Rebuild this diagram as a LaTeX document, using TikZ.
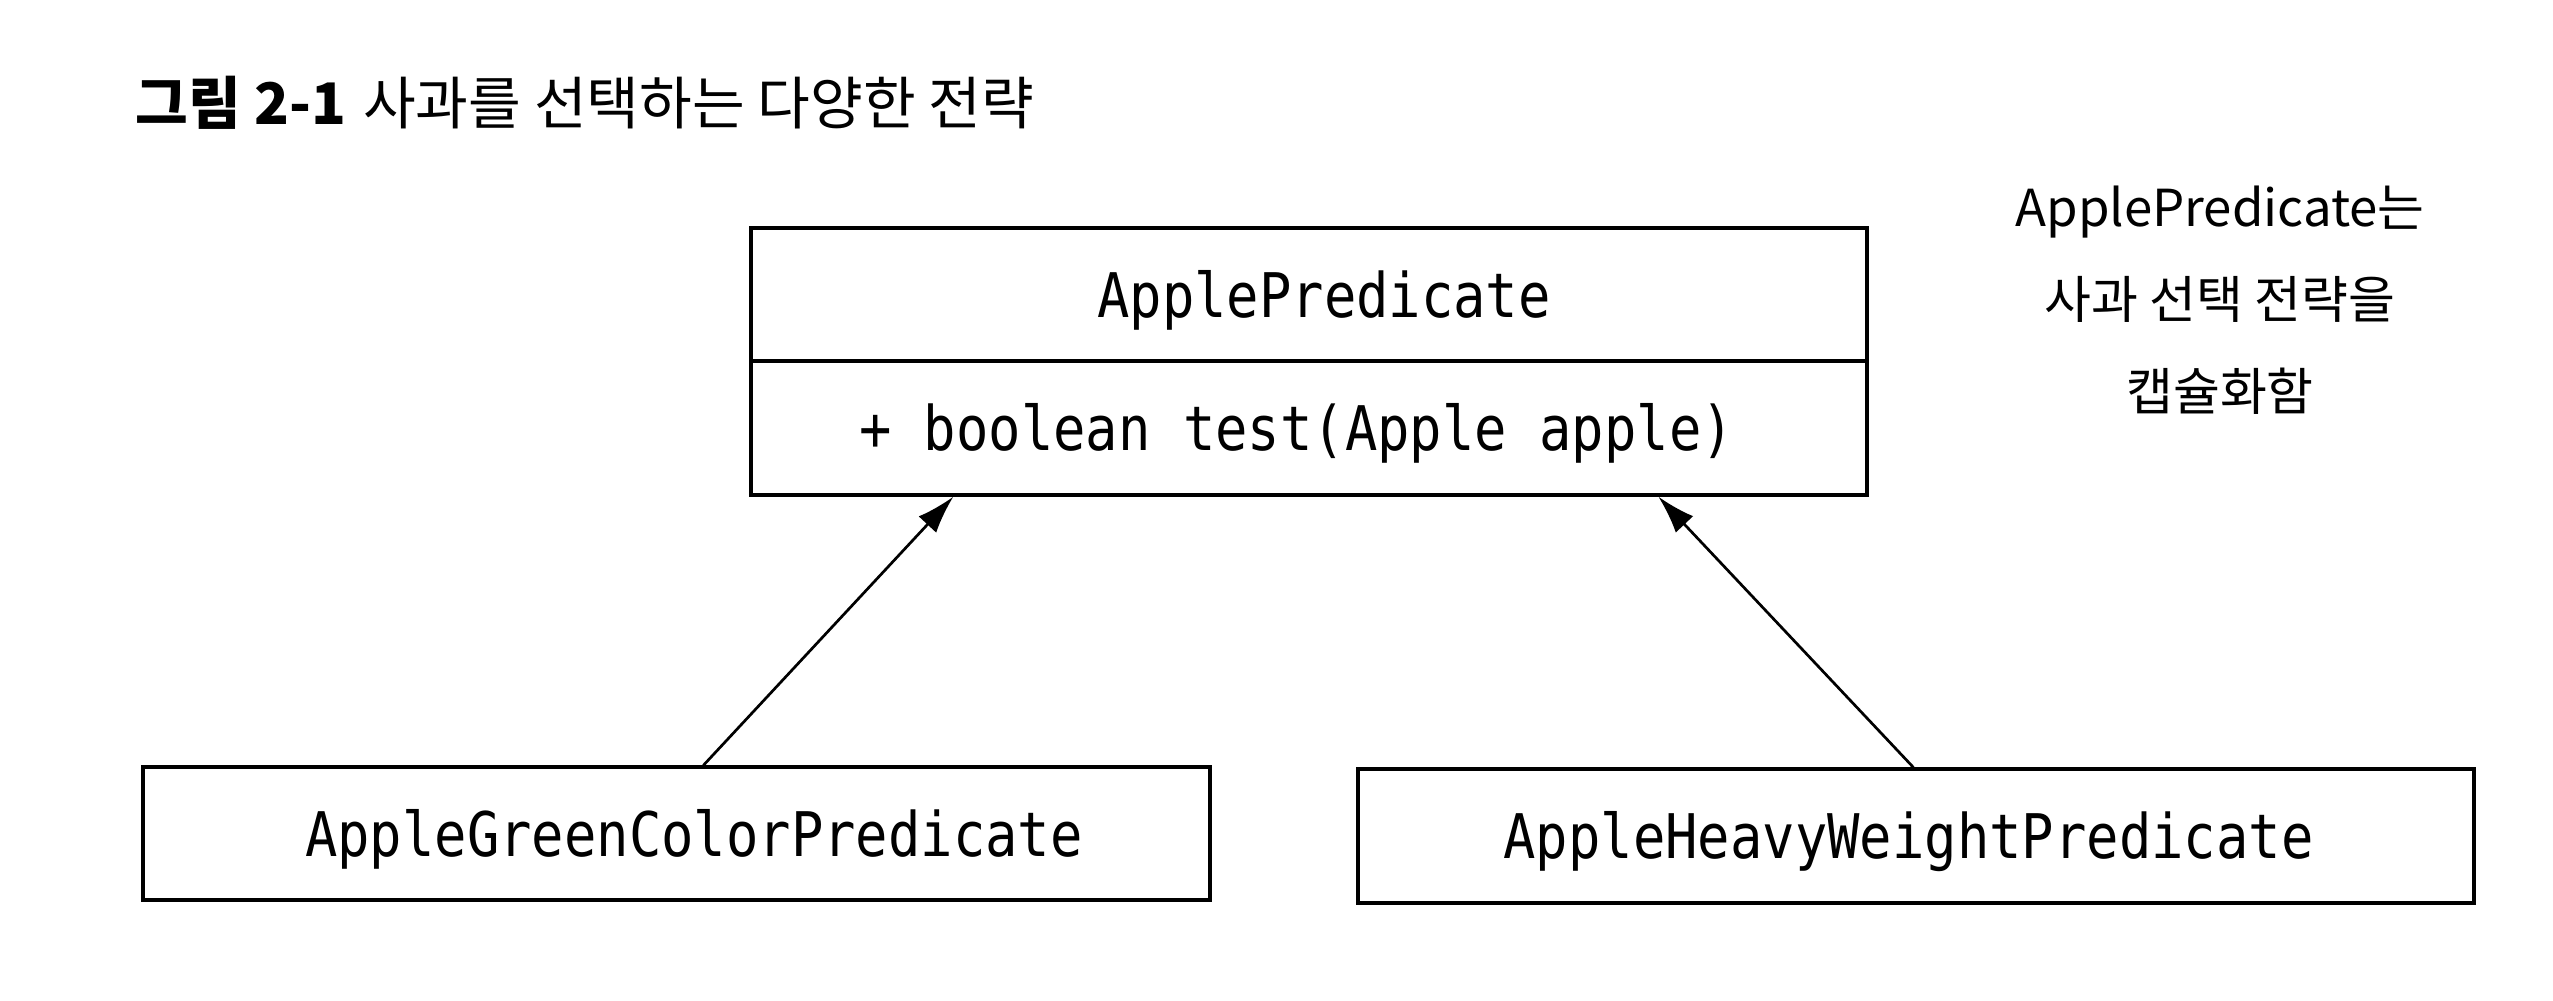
\documentclass[tikz,border=0pt]{standalone}
\usepackage{fontspec}
\newfontfamily\krfont{Noto Sans CJK KR}
\newfontfamily\codefont[FakeStretch=0.875]{DejaVu Sans Mono}
\usetikzlibrary{calc,arrows.meta}
\begin{document}
\begin{tikzpicture}[x=0.1mm,y=-0.1mm,
  umlbox/.style={draw, line width=0.33mm, inner sep=0pt,
    font=\codefont\fontsize{17.5pt}{20pt}\selectfont,
    text height=4.5mm, text depth=0pt},
  arr/.style={-{Latex[length=3.8mm,width=2.4mm]}, line width=0.27mm},
  krtext/.style={inner sep=0pt, font=\krfont\fontsize{14.5pt}{26.2pt}\selectfont}]
\useasboundingbox (0,0) rectangle (2553,1000);

\node[anchor=base west, inner sep=0pt, font=\krfont\fontsize{16.3pt}{19pt}\selectfont] (title) at (135,124)
  {{\bfseries 그림 2-1}\hspace{0.3em}사과를 선택하는 다양한 전략};

\node[umlbox, minimum width=111.6mm, minimum height=13.3mm] (pa) at (1309,294.5) {\kern3mm ApplePredicate};
\node[umlbox, minimum width=111.6mm, minimum height=13.4mm] (pm) at (1309,428) {+ boolean test(Apple apple)\kern2.5mm\null};

\node[umlbox, minimum width=106.7mm, minimum height=13.3mm] (g) at (676.5,833.5) {\kern3.5mm AppleGreenColorPredicate};
\node[umlbox, minimum width=111.6mm, minimum height=13.4mm] (h) at (1916,836) {AppleHeavyWeightPredicate\kern1.5mm\null};

\node[krtext, align=center] (note) at (2220,300) {ApplePredicate는\\사과 선택 전략을\\캡슐화함};

\draw[arr] ($(g.north west)+(562,0)$) -- ($(pm.south west)+(204,0)$);
\draw[arr] ($(h.north west)+(557,0)$) -- ($(pm.south west)+(909,0)$);
\end{tikzpicture}
\end{document}
